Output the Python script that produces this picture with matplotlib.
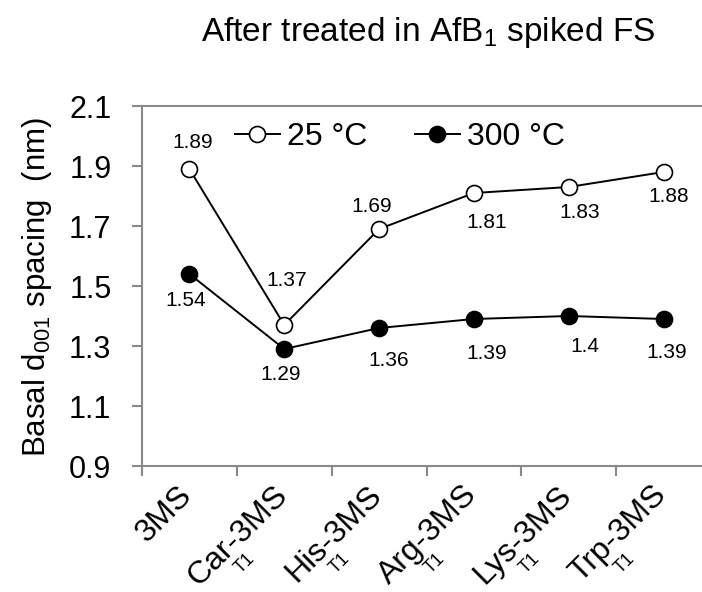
import matplotlib
matplotlib.use("Agg")
import matplotlib.pyplot as plt
import matplotlib.transforms as mtransforms

plt.rcParams['font.family'] = ['Liberation Sans', 'DejaVu Sans']
plt.rcParams['mathtext.fontset'] = 'custom'
plt.rcParams['mathtext.rm'] = 'Liberation Sans'
plt.rcParams['mathtext.it'] = 'Liberation Sans'

# Data
categories = ["3MS", "Car-3MS", "His-3MS", "Arg-3MS", "Lys-3MS", "Trp-3MS"]
subscripts = ["", "T1", "T1", "T1", "T1", "T1"]
spacing_25C = [1.89, 1.37, 1.69, 1.81, 1.83, 1.88]
spacing_300C = [1.54, 1.29, 1.36, 1.39, 1.4, 1.39]
yticks = [0.9, 1.1, 1.3, 1.5, 1.7, 1.9, 2.1]

# Value-label offsets from each marker, in pixels (x right, y down)
offsets_25C = [(3, -27), (2, -44), (-7, -23), (13, 29), (11, 26), (5, 25)]
offsets_300C = [(-4, 26), (-4, 26), (10, 33), (13, 34), (16, 31), (3, 33)]

W, H = 702, 592
PX = 72 / 100  # points per pixel at 100 dpi
fig = plt.figure(figsize=(W / 100, H / 100), dpi=100)
ax = fig.add_axes([142 / W, 1 - 466 / H, (711 - 142) / W, (466 - 106) / H])

x = list(range(len(categories)))
ax.plot(x, spacing_25C, color='black', lw=1.4, marker='o', ms=11.5,
        mfc='white', mec='black', mew=1.2, label='25 °C', zorder=3)
ax.plot(x, spacing_300C, color='black', lw=1.4, marker='o', ms=11.5,
        mfc='black', mec='black', mew=1.2, label='300 °C', zorder=3)

def annotate(vals, offs):
    for xi, v, (dx, dy) in zip(x, vals, offs):
        ax.annotate(f"{v:g}", (xi, v), xytext=(dx * PX, -dy * PX),
                    textcoords='offset points', ha='center', va='center',
                    fontsize=15)

annotate(spacing_25C, offsets_25C)
annotate(spacing_300C, offsets_300C)

ax.set_xlim(-0.5, len(categories) - 0.5)
ax.set_ylim(0.9, 2.1)
ax.set_yticks(yticks)
ax.set_yticklabels([f"{t:.1f}" for t in yticks], fontsize=22)

# Category boundaries as x ticks
ax.set_xticks([i - 0.5 for i in range(len(categories) + 1)])
ax.set_xticklabels([])
gray = '#898989'
ax.tick_params(axis='x', direction='out', length=7, width=1.5, color=gray)
ax.tick_params(axis='y', direction='out', length=7, width=1.5, color=gray, pad=15)

for s in ['left', 'bottom', 'top']:
    ax.spines[s].set_color(gray)
    ax.spines[s].set_linewidth(1.5)
ax.spines['right'].set_visible(False)

# Rotated category labels with subscripts
trans = mtransforms.blended_transform_factory(ax.transData, ax.transAxes)
for xi, name, sub in zip(x, categories, subscripts):
    off = mtransforms.offset_copy(trans, fig=fig, x=-12 * PX, y=-14 * PX, units='points')
    ax.text(xi, 0, name, transform=off, rotation=45, ha='right', va='top',
            fontsize=23, rotation_mode='anchor')
    if sub:
        off2 = mtransforms.offset_copy(trans, fig=fig, x=-39 * PX, y=-97 * PX,
                                       units='points')
        ax.text(xi, 0, sub, transform=off2, rotation=45, ha='center', va='center',
                fontsize=13, rotation_mode='anchor')

ax.set_ylabel("Basal d$_{\\mathregular{001}}$ spacing  (nm)", fontsize=22.5)
ax.yaxis.set_label_coords(37 / W, 1 - 287 / H, transform=fig.transFigure)
ax.yaxis.label.set_verticalalignment('center')

fig.text(428 / W, 1 - 33 / H, "After treated in AfB$_{\\mathregular{1}}$ spiked FS",
         ha='center', va='center', fontsize=24)

ax.legend(loc='center left', bbox_to_anchor=((235 - 142) / 569, (466 - 137) / 360),
          ncol=2, frameon=False, fontsize=23, handlelength=1.4, handletextpad=0.22,
          columnspacing=1.5, borderpad=0, borderaxespad=0)

fig.savefig("out.png", dpi=100)
